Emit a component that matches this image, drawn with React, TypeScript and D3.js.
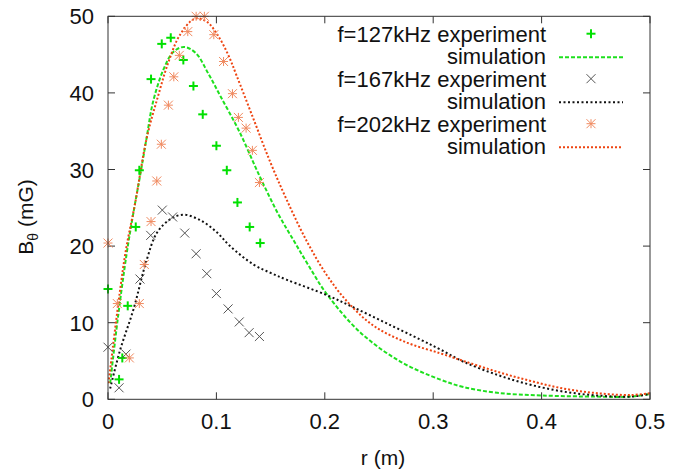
import React from "react";
import * as d3 from "d3";

const xTicks = [0, 0.1, 0.2, 0.3, 0.4, 0.5];
const yTicks = [0, 10, 20, 30, 40, 50];

// f=127kHz experiment
const exp127R = [0, 0.0102, 0.0132, 0.0182, 0.0256, 0.0289, 0.0397, 0.0496, 0.0579, 0.0695, 0.0788, 0.0874, 0.1, 0.1096, 0.1194, 0.1307, 0.1404];
const exp127B = [14.4, 2.6, 5.4, 12.2, 22.5, 29.9, 41.8, 46.4, 47.2, 44.3, 40.9, 37.2, 33.1, 29.9, 25.7, 22.5, 20.4];
// f=167kHz experiment
const exp167R = [0, 0.0102, 0.0166, 0.0295, 0.0394, 0.0501, 0.0596, 0.0708, 0.0813, 0.0911, 0.1, 0.1108, 0.1211, 0.1302, 0.1397];
const exp167B = [6.8, 1.5, 5.9, 15.7, 21.4, 24.7, 23.8, 21.7, 19.0, 16.4, 13.8, 11.8, 10.1, 8.7, 8.2];
// f=202kHz experiment
const exp202R = [0, 0.0086, 0.0197, 0.0289, 0.0335, 0.0397, 0.045, 0.0492, 0.0557, 0.0607, 0.0658, 0.0736, 0.0813, 0.0889, 0.0976, 0.1066, 0.1148, 0.1203, 0.1274, 0.1332, 0.1397];
const exp202B = [20.4, 12.5, 5.4, 12.5, 17.6, 23.2, 28.5, 33.3, 38.4, 42.1, 44.9, 48.0, 50.0, 50.0, 47.6, 44.1, 39.9, 36.8, 35.4, 32.5, 28.3];

// simulations
const sim127R = [0.002, 0.009, 0.0172, 0.023, 0.0305, 0.0357, 0.0415, 0.051, 0.06, 0.07, 0.081, 0.093, 0.104, 0.121, 0.139, 0.157, 0.171, 0.184, 0.202, 0.233, 0.27, 0.306, 0.328, 0.359, 0.4005, 0.451, 0.482, 0.5];
const sim127B = [2.1, 10.5, 19.0, 24.0, 29.9, 34.2, 38.8, 43.0, 45.3, 46.0, 45.2, 42.4, 39.5, 35.0, 29.4, 24.2, 20.8, 17.7, 13.7, 8.7, 4.9, 2.6, 1.6, 0.85, 0.5, 0.35, 0.35, 0.7];
const sim167R = [0.002, 0.0111, 0.0234, 0.0357, 0.045, 0.0572, 0.0695, 0.085, 0.1004, 0.1126, 0.1342, 0.15, 0.165, 0.2019, 0.2265, 0.2573, 0.2881, 0.3066, 0.328, 0.359, 0.3897, 0.4204, 0.4512, 0.482, 0.5];
const sim167B = [1.4, 6.4, 11.7, 18.2, 21.7, 23.5, 24.1, 23.4, 21.8, 20.0, 17.6, 16.5, 15.6, 13.6, 12.0, 9.9, 7.8, 6.5, 4.9, 3.2, 1.9, 1.0, 0.5, 0.35, 0.7];
const sim202R = [0.0005, 0.0157, 0.0249, 0.0357, 0.0464, 0.0557, 0.0665, 0.0803, 0.0911, 0.1018, 0.1111, 0.1188, 0.1342, 0.1496, 0.165, 0.1835, 0.2019, 0.2204, 0.245, 0.2758, 0.3066, 0.328, 0.359, 0.3897, 0.4204, 0.4512, 0.482, 0.5];
const sim202B = [2.1, 18.8, 25.5, 34.1, 39.7, 44.0, 47.6, 49.7, 49.3, 47.4, 44.9, 42.2, 36.6, 31.0, 26.0, 20.6, 16.2, 12.8, 9.6, 7.4, 6.0, 5.0, 3.6, 2.4, 1.4, 0.8, 0.56, 0.8];

const legendLabels = ["f=127kHz experiment", "simulation", "f=167kHz experiment", "simulation", "f=202kHz experiment", "simulation"];

const GREEN = "#1ee01e";
const BLACK = "#111111";
const XGRAY = "#555555";
const RED = "#ee4411";
const ORANGE = "#f08a60";

const FONT = "'Liberation Sans', Arial, Helvetica, sans-serif";

function Plus({ x, y }: { x: number; y: number }) {
  const s = 4.5;
  return (
    <g stroke="#00e000" strokeWidth={2}>
      <line x1={x - s} x2={x + s} y1={y} y2={y} />
      <line x1={x} x2={x} y1={y - s} y2={y + s} />
    </g>
  );
}
function Cross({ x, y }: { x: number; y: number }) {
  const s = 4.5;
  return (
    <g stroke={XGRAY} strokeWidth={1}>
      <line x1={x - s} x2={x + s} y1={y - s} y2={y + s} />
      <line x1={x - s} x2={x + s} y1={y + s} y2={y - s} />
    </g>
  );
}
function Star({ x, y }: { x: number; y: number }) {
  const s = 4.5;
  return (
    <g stroke={ORANGE} strokeWidth={1}>
      <line x1={x - s} x2={x + s} y1={y} y2={y} />
      <line x1={x} x2={x} y1={y - s} y2={y + s} />
      <line x1={x - s} x2={x + s} y1={y - s} y2={y + s} />
      <line x1={x - s} x2={x + s} y1={y + s} y2={y - s} />
    </g>
  );
}

export default function App() {
  const W = 682, H = 472;
  const left = 108, right = 650, top = 16.3, bottom = 399.3;
  const x = d3.scaleLinear().domain([0, 0.5]).range([left, right]);
  const y = d3.scaleLinear().domain([0, 50]).range([bottom, top]);
  const line = d3
    .line<[number, number]>()
    .x((d) => x(d[0]))
    .y((d) => y(d[1]))
    .curve(d3.curveCatmullRom.alpha(0.5));
  const zip = (a: number[], b: number[]) => a.map((v, i) => [v, b[i]] as [number, number]);

  const tl = 7;
  const legendX = 546;
  const baselines = [41.7, 64.2, 86.7, 109.2, 131.7, 154.2];
  const sampleX1 = 559, sampleX2 = 623, markX = 591;

  return (
    <svg width={W} height={H} style={{ position: "absolute", left: 0, top: 0, background: "#fff" }} fontFamily={FONT}>
      <rect x={0} y={0} width={W} height={H} fill="#fff" />
      <defs>
        <clipPath id="plot">
          <rect x={left} y={top - 2} width={right - left} height={bottom - top + 2} />
        </clipPath>
      </defs>
      {/* ticks */}
      <g stroke="#333" strokeWidth={1}>
        {xTicks.map((t) => (
          <g key={"xt" + t}>
            <line x1={x(t)} x2={x(t)} y1={bottom} y2={bottom - tl} />
            <line x1={x(t)} x2={x(t)} y1={top} y2={top + tl} />
          </g>
        ))}
        {yTicks.map((t) => (
          <g key={"yt" + t}>
            <line x1={left} x2={left + tl} y1={y(t)} y2={y(t)} />
            <line x1={right} x2={right - tl} y1={y(t)} y2={y(t)} />
          </g>
        ))}
      </g>
      {/* tick labels */}
      <g fontSize={22} fill="#111">
        {xTicks.map((t) => (
          <text key={"xl" + t} x={x(t)} y={429} textAnchor="middle">
            {String(t)}
          </text>
        ))}
        {yTicks.map((t) => (
          <text key={"yl" + t} x={94} y={y(t) + 8} textAnchor="end">
            {String(t)}
          </text>
        ))}
      </g>
      <text x={(left + right) / 2 + 4} y={465} fontSize={21} textAnchor="middle" fill="#111">
        r (m)
      </text>
      <text transform="translate(33,217) rotate(-90)" fontSize={21} textAnchor="middle" fill="#111">
        B<tspan fontSize={14} dy={5}>θ</tspan>
        <tspan dy={-5}> (mG)</tspan>
      </text>

      {/* curves */}
      <g clipPath="url(#plot)" fill="none">
        <path d={line(zip(sim127R, sim127B)) || ""} stroke={GREEN} strokeWidth={2} strokeDasharray="4,2" />
        <path d={line(zip(sim167R, sim167B)) || ""} stroke={BLACK} strokeWidth={2} strokeDasharray="2,2.5" />
        <path d={line(zip(sim202R, sim202B)) || ""} stroke={RED} strokeWidth={2} strokeDasharray="2,2" />
      </g>
      {/* points */}
      {exp127R.map((r, i) => (
        <Plus key={"g" + i} x={x(r)} y={y(exp127B[i])} />
      ))}
      {exp167R.map((r, i) => (
        <Cross key={"k" + i} x={x(r)} y={y(exp167B[i])} />
      ))}
      {exp202R.map((r, i) => (
        <Star key={"o" + i} x={x(r)} y={y(exp202B[i])} />
      ))}

      {/* frame */}
      <rect x={left} y={top} width={right - left} height={bottom - top} fill="none" stroke="#333" strokeWidth={1} />

      {/* legend */}
      <g fontSize={22} fill="#111">
        {legendLabels.map((l, i) => (
          <text key={"lg" + i} x={legendX} y={baselines[i]} textAnchor="end">
            {l}
          </text>
        ))}
      </g>
      <Plus x={markX} y={baselines[0] - 8} />
      <line x1={sampleX1} x2={sampleX2} y1={baselines[1] - 7} y2={baselines[1] - 7} stroke={GREEN} strokeWidth={2} strokeDasharray="4,2" />
      <Cross x={markX} y={baselines[2] - 8} />
      <line x1={sampleX1} x2={sampleX2} y1={baselines[3] - 7} y2={baselines[3] - 7} stroke={BLACK} strokeWidth={2} strokeDasharray="2,2.5" />
      <Star x={markX} y={baselines[4] - 8} />
      <line x1={sampleX1} x2={sampleX2} y1={baselines[5] - 7} y2={baselines[5] - 7} stroke={RED} strokeWidth={2} strokeDasharray="2,2" />
    </svg>
  );
}
